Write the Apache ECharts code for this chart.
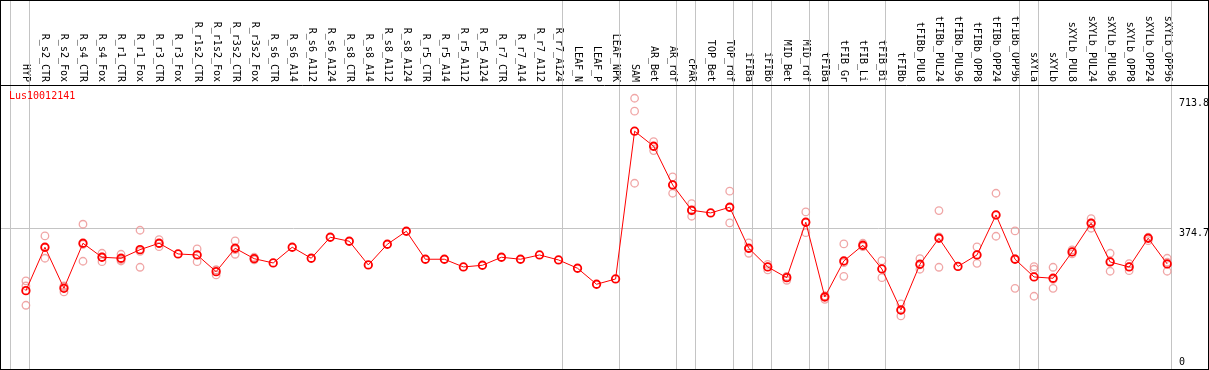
<!DOCTYPE html>
<html><head><meta charset="utf-8">
<script src="https://cdn.jsdelivr.net/npm/echarts@6/dist/echarts.min.js"></script>
<style>
html,body{margin:0;padding:0;background:#fff;}
#wrap{position:relative;width:1209px;height:370px;overflow:hidden;}
#chart{width:1209px;height:370px;}
#frame{position:absolute;left:0;top:0;width:1209px;height:370px;box-sizing:border-box;border:1px solid #000;pointer-events:none;}
</style></head><body>
<div id="wrap"><div id="chart"></div><div id="frame"></div></div>
<script>
const geneName = 'Lus10012141';
const categories = ['HYP','R_s2_CTR','R_s2_Fox','R_s4_CTR','R_s4_Fox','R_r1_CTR','R_r1_Fox','R_r3_CTR','R_r3_Fox','R_r1s2_CTR',
 'R_r1s2_Fox','R_r3s2_CTR','R_r3s2_Fox','R_s6_CTR','R_s6_A14','R_s6_A112','R_s6_A124','R_s8_CTR','R_s8_A14','R_s8_A112',
 'R_s8_A124','R_r5_CTR','R_r5_A14','R_r5_A112','R_r5_A124','R_r7_CTR','R_r7_A14','R_r7_A112','R_r7_A124','LEAF_N',
 'LEAF_P','LEAF_NPK','SAM','AR_Bet','AR_rdf','cPAR','TOP_Bet','TOP_rdf','iFIBa','iFIBb',
 'MID_Bet','MID_rdf','tFIBa','tFIB_Gr','tFIB_Li','tFIB_Bi','tFIBb','tFIBb_PUL8','tFIBb_PUL24','tFIBb_PUL96',
 'tFIBb_OPP8','tFIBb_OPP24','tFIBb_OPP96','sXYLa','sXYLb','sXYLb_PUL8','sXYLb_PUL24','sXYLb_PUL96','sXYLb_OPP8','sXYLb_OPP24',
 'sXYLb_OPP96'];
const meanValues = [212.1, 325.3, 218.3, 335.7, 299.2, 296.6, 319.0, 335.7, 307.8, 305.2,
 261.6, 322.7, 295.5, 284.3, 325.3, 296.6, 351.4, 340.9, 279.1, 333.1,
 367.0, 294.0, 294.0, 273.9, 278.3, 299.2, 294.0, 305.2, 292.2, 270.5,
 228.8, 242.6, 627.9, 588.7, 487.8, 421.8, 414.8, 429.6, 322.7, 273.9,
 246.0, 390.5, 195.6, 289.5, 330.5, 268.7, 161.7, 280.9, 348.8, 275.2,
 305.2, 409.5, 294.0, 247.8, 244.4, 313.0, 387.9, 286.9, 273.9, 348.8,
 281.7];
const rep1 = [237.4, 354.8, 224.3, 385.3, 309.6, 307.0, 369.6, 345.1, null, 320.8,
 266.1, 341.7, 299.2, null, null, null, null, null, null, null,
 null, null, null, null, null, null, null, null, null, null,
 null, null, 713.8, 600.7, 508.7, 439.0, null, 471.4, 336.5, 280.4,
 248.6, 417.4, 198.2, 333.9, 335.7, 290.3, 177.4, 295.5, 420.8, null,
 326.1, 466.1, 367.8, 274.7, 273.1, 318.2, 399.9, 309.6, 282.5, 351.4,
 296.6];
const rep2 = [224.3, 324.2, 221.7, 332.8, 300.0, 293.2, 314.6, 334.9, null, 305.2,
 266.1, 319.0, 295.5, null, null, null, null, null, null, null,
 null, null, null, null, null, null, null, null, null, null,
 null, null, 680.0, 588.2, 488.6, 420.0, null, 428.6, 321.6, 273.9,
 249.1, 390.5, 198.2, 285.1, 328.7, 269.5, 161.7, 279.1, 352.1, null,
 306.0, 408.7, 295.5, 267.9, 241.8, 313.0, 388.7, 288.8, 274.7, 349.5,
 286.2];
const rep3 = [174.0, 296.6, 208.7, 288.8, 287.7, 289.5, 273.1, 326.8, null, 287.7,
 253.0, 307.0, 292.2, null, null, null, null, null, null, null,
 null, null, null, null, null, null, null, null, null, null,
 null, null, 492.2, 577.3, 466.1, 406.1, null, 388.7, 309.6, 266.1,
 239.2, 363.4, 189.6, 249.6, 326.8, 246.0, 146.1, 267.9, 273.1, null,
 283.5, 354.0, 218.3, 197.5, 218.3, 307.8, 374.8, 262.7, 264.2, 342.5,
 262.7];
const groupEnds = [-1, 0, 28, 31, 34, 35, 37, 38, 39, 41, 42, 45, 52, 53, 60];
const yTickLabels = [374.7, 713.8];
const yBottomLabels = [0];
const midLine = 374.7;
const plotTop = 749.4;

const MONO = 'DejaVu Sans Mono';

const repData = [];
[rep1, rep2, rep3].forEach(arr => arr.forEach((v, i) => { if (v != null) repData.push([i, v]); }));

const chart = echarts.init(document.getElementById('chart'), null, {renderer: 'canvas'});
const yAxisCommon = {
  type: 'value', min: 0, max: 970, position: 'right',
  axisLine: {show: false, onZero: false}, axisTick: {show: false}, splitLine: {show: false}
};
chart.setOption({
  animation: false,
  backgroundColor: '#fff',
  title: {text: geneName, left: 9, top: 91, padding: 0,
    textStyle: {color: '#ff0000', fontSize: 10, fontFamily: MONO, fontWeight: 'normal'}},
  grid: {left: 1, top: 0, width: 1170, height: 372, containLabel: false, outerBoundsMode: 'none'},
  xAxis: {
    type: 'value', min: -1.31, max: 60.2, position: 'top', offset: -85,
    axisLine: {show: false, onZero: false}, axisTick: {show: false}, splitLine: {show: false},
    axisLabel: {
      customValues: categories.map((_, i) => i),
      formatter: v => categories[Math.round(v)],
      rotate: 90, margin: 3, color: '#000', fontFamily: MONO, fontSize: 10
    }
  },
  yAxis: [
    Object.assign({}, yAxisCommon, {axisLabel: {customValues: yTickLabels, formatter: v => String(v),
      verticalAlign: 'top', margin: 8, color: '#000', fontFamily: MONO, fontSize: 10}}),
    Object.assign({}, yAxisCommon, {axisLabel: {customValues: yBottomLabels, formatter: v => String(v),
      verticalAlign: 'bottom', padding: [0, 0, 5, 0], margin: 8, color: '#000', fontFamily: MONO, fontSize: 10}})
  ],
  series: [
    {
      type: 'scatter', data: repData, symbol: 'circle', symbolSize: 7.5, silent: true, z: 2,
      itemStyle: {color: 'rgba(0,0,0,0)', borderColor: '#ec9090', borderWidth: 1.3},
      markLine: {
        silent: true, symbol: 'none', z: 1, label: {show: false},
        lineStyle: {color: '#c4c4c4', width: 1, type: 'solid'},
        emphasis: {disabled: true},
        data: groupEnds.map(g => ({xAxis: g + 0.2})).concat([{yAxis: midLine}])
      }
    },
    {
      type: 'line', data: meanValues.map((v, i) => [i, v]), symbol: 'circle', symbolSize: 7.5,
      showSymbol: true, silent: true, z: 3,
      lineStyle: {color: '#ff0000', width: 1},
      itemStyle: {color: 'rgba(0,0,0,0)', borderColor: '#ff0000', borderWidth: 1.8}
    }
  ]
});
const yTop = Math.round(chart.convertToPixel({yAxisIndex: 0}, plotTop)) + 0.5;
chart.setOption({graphic: [{type: 'line', silent: true, z: 10,
  shape: {x1: 0, y1: yTop, x2: 1209, y2: yTop}, style: {stroke: '#000', lineWidth: 1}}]});
</script>
</body></html>
